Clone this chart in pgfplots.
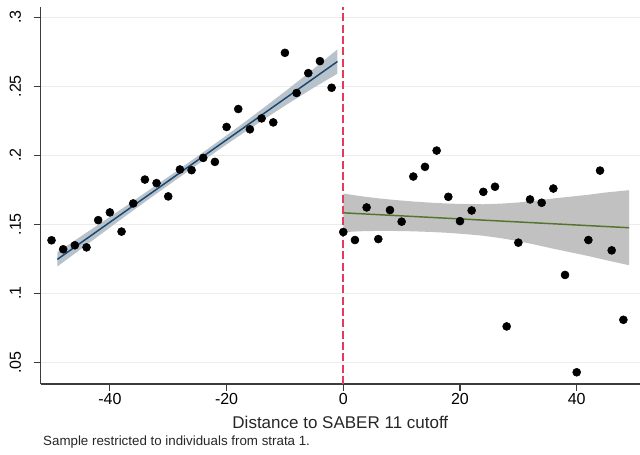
\documentclass[border=0pt]{standalone}
\usepackage{pgfplots}
\pgfplotsset{compat=1.18}
\usepackage{fontspec}
\setmainfont{Liberation Sans}
\definecolor{navyS}{RGB}{26,71,111}
\definecolor{forestS}{RGB}{85,117,47}
\definecolor{bandL}{RGB}{184,194,203}
\definecolor{bandR}{RGB}{192,193,192}
\definecolor{cutoffred}{RGB}{228,58,92}
\definecolor{axc}{RGB}{60,60,60}
\begin{document}
\begin{tikzpicture}
\begin{axis}[
  scale only axis, width=449.5pt, height=282.75pt,
  xmin=-51.86, xmax=50.85, ymin=0.0343, ymax=0.3074,
  axis x line*=bottom, axis y line*=left,
  axis line style={axc, line width=0.8pt, -},
  xtick={-40,-20,0,20,40}, xticklabels={\textnormal{-40},\textnormal{-20},\textnormal{0},\textnormal{20},\textnormal{40}},
  ytick={0.05,0.1,0.15,0.2,0.25,0.3}, yticklabels={\textnormal{.05},\textnormal{.1},\textnormal{.15},\textnormal{.2},\textnormal{.25},\textnormal{.3}},
  tick align=outside, major tick length=5.25pt,
  tick style={axc, line width=0.8pt},
  ymajorgrids, grid style={gray!15, line width=0.75pt},
  ticklabel style={font=\fontsize{12}{14}\selectfont},
  yticklabel style={rotate=90, anchor=south},
  yticklabel shift=6pt,
  xticklabel shift=-2pt,
]
% left CI band
\addplot[fill=bandL, draw=none] coordinates {
(-49,0.1298) (-45,0.14115) (-41,0.1525) (-37,0.16395) (-33,0.1756) (-29,0.18725) (-25,0.1992) (-21,0.21135) (-17,0.2237) (-13,0.23645) (-9,0.2494) (-5,0.2629) (-1,0.2767)
(-1,0.2591) (-5,0.2491) (-9,0.2386) (-13,0.22765) (-17,0.2165) (-21,0.20495) (-25,0.1932) (-29,0.18125) (-33,0.1692) (-37,0.15695) (-41,0.1445) (-45,0.13195) (-49,0.1194)
};
% right CI band
\addplot[fill=bandR, draw=none] coordinates {
(0,0.1723) (3,0.17035) (6,0.1688) (9,0.16755) (12,0.1665) (15,0.16565) (18,0.1650) (21,0.16465) (24,0.1645) (27,0.16495) (30,0.1658) (33,0.16715) (36,0.1687) (39,0.17005) (42,0.1714) (45,0.17305) (49,0.1747)
(49,0.1203) (45,0.12405) (42,0.1270) (39,0.12965) (36,0.1323) (33,0.13515) (30,0.1378) (27,0.13995) (24,0.1417) (21,0.14285) (18,0.1438) (15,0.14445) (12,0.1449) (9,0.14515) (6,0.1452) (3,0.14495) (0,0.1443)
};
% fit lines
\addplot[color=navyS, line width=1.1pt] coordinates {(-49,0.1246) (-1,0.2679)};
\addplot[color=forestS, line width=1.1pt] coordinates {(0,0.1583) (49,0.1475)};
% cutoff line
\addplot[draw=cutoffred, line width=1.5pt, dash pattern=on 6pt off 2.5pt, mark=none] coordinates {(0,0.0343) (0,0.3074)};
% binned means
\addplot[only marks, mark=*, mark size=3pt, black] coordinates {
(-50,0.1384) (-48,0.1319) (-46,0.1348) (-44,0.1333) (-42,0.153) (-40,0.1586) (-38,0.1447) (-36,0.1651) (-34,0.1824) (-32,0.1798) (-30,0.1702) (-28,0.1897) (-26,0.1892) (-24,0.1981) (-22,0.1952) (-20,0.2205) (-18,0.2335) (-16,0.2188) (-14,0.2267) (-12,0.2238) (-10,0.2742) (-8,0.2451) (-6,0.2595) (-4,0.2682) (-2,0.2489)
};
\addplot[only marks, mark=*, mark size=3pt, black] coordinates {
(0,0.1444) (2,0.1386) (4,0.1622) (6,0.1393) (8,0.1603) (10,0.1519) (12,0.1846) (14,0.1916) (16,0.2034) (18,0.1699) (20,0.1523) (22,0.160) (24,0.1735) (26,0.1772) (28,0.076) (30,0.1367) (32,0.168) (34,0.1656) (36,0.1759) (38,0.1133) (40,0.0428) (42,0.1386) (44,0.1889) (46,0.1311) (48,0.0808)
};
\coordinate (bl) at (rel axis cs:0,0);
\coordinate (bc) at (rel axis cs:0.5,0);
\coordinate (tr) at (rel axis cs:1,1);
\end{axis}
\node[anchor=base, font=\fontsize{12.75}{15}\selectfont, text=black!85] at ([yshift=-33pt]bc) {Distance to SABER 11 cutoff};
\node[anchor=base west, font=\fontsize{10}{12}\selectfont, text=black!85, inner sep=0pt] at ([xshift=1.7pt,yshift=-45.75pt]bl) {Sample restricted to individuals from strata 1.};
\pgfresetboundingbox
\path[use as bounding box] ([xshift=-30.5pt,yshift=-52.5pt]bl) rectangle ([yshift=5.25pt]tr);
\end{tikzpicture}
\end{document}
